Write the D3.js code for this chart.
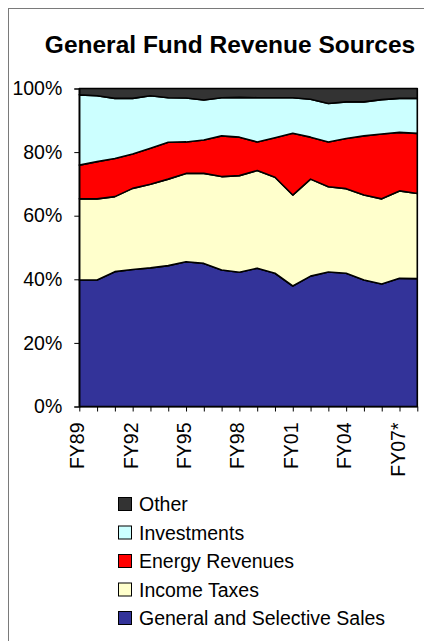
<!DOCTYPE html>
<html>
<head>
<meta charset="utf-8">
<script src="https://cdn.jsdelivr.net/npm/d3@7"></script>
<style>
  html, body { margin: 0; padding: 0; background: #fff; }
  svg { display: block; }
  text { font-family: "Liberation Sans", Arial, sans-serif; fill: #000; }
</style>
</head>
<body>
<svg id="chart" width="424" height="641"></svg>
<script>
const categories = ["FY89","FY90","FY91","FY92","FY93","FY94","FY95","FY96","FY97","FY98",
                    "FY99","FY00","FY01","FY02","FY03","FY04","FY05","FY06","FY07*","FY08*"];
const shownLabels = ["FY89","FY92","FY95","FY98","FY01","FY04","FY07*"];
const general     = [39.8, 39.8, 42.4, 43.1, 43.6, 44.3, 45.5, 45.0, 42.9, 42.2, 43.5, 41.9, 37.9, 41.0, 42.3, 41.9, 39.8, 38.5, 40.3, 40.2];
const income      = [25.5, 25.5, 23.6, 25.5, 26.3, 27.2, 27.8, 28.3, 29.4, 30.4, 30.7, 30.2, 28.6, 30.5, 26.8, 26.6, 26.7, 26.8, 27.5, 26.8];
const energy      = [10.6, 11.7, 12.0, 10.8, 11.3, 11.6, 9.9, 10.5, 12.8, 12.1, 9.0, 12.4, 19.4, 13.2, 14.1, 15.8, 18.6, 20.4, 18.4, 18.9];
const investments = [22.1, 20.7, 18.9, 17.5, 16.5, 14.0, 13.8, 12.6, 12.0, 12.5, 13.9, 12.6, 11.2, 11.9, 12.1, 11.5, 10.7, 10.8, 10.7, 11.0];
const other       = [2.0, 2.3, 3.1, 3.1, 2.3, 2.9, 3.0, 3.6, 2.9, 2.8, 2.9, 2.9, 2.9, 3.4, 4.7, 4.2, 4.2, 3.5, 3.1, 3.1];
const seriesNames = ["General and Selective Sales","Income Taxes","Energy Revenues","Investments","Other"];
const seriesColors = ["#333399","#FFFFCC","#FF0000","#CCFFFF","#333333"];
const yTicks = [0, 0.2, 0.4, 0.6, 0.8, 1.0];

const rows = categories.map((c, i) => ({
  cat: c,
  "General and Selective Sales": general[i],
  "Income Taxes": income[i],
  "Energy Revenues": energy[i],
  "Investments": investments[i],
  "Other": other[i]
}));

const svg = d3.select("#chart");

// outer frame
svg.append("rect").attr("x", 8.5).attr("y", 8.5).attr("width", 440).attr("height", 660)
  .attr("fill", "none").attr("stroke", "#7a7a7a").attr("stroke-width", 1);

// title
svg.append("text").attr("x", 230).attr("y", 52.5).attr("text-anchor", "middle")
  .style("font-size", "24.5px").style("font-weight", "bold")
  .text("General Fund Revenue Sources");

const x = d3.scalePoint().domain(categories).range([79.3, 417.3]);
const y = d3.scaleLinear().domain([0, 1]).range([406.5, 88.5]);

const stack = d3.stack().keys(seriesNames).offset(d3.stackOffsetExpand);
const layers = stack(rows);

const area = d3.area()
  .x(d => x(d.data.cat))
  .y0(d => y(d[0]))
  .y1(d => y(d[1]));

svg.append("g").selectAll("path").data(layers).join("path")
  .attr("d", area)
  .attr("fill", (d, i) => seriesColors[i])
  .attr("stroke", "#000")
  .attr("stroke-width", 1.6)
  .attr("stroke-linejoin", "round");

// y axis
const yAxis = svg.append("g").attr("transform", "translate(79.3,0)")
  .call(d3.axisLeft(y).tickValues(yTicks).tickFormat(d3.format(".0%")).tickSize(5).tickPadding(12));
yAxis.select(".domain").attr("stroke", "#000").attr("stroke-width", 1.2);
yAxis.selectAll(".tick line").attr("stroke", "#000");
yAxis.selectAll("text").style("font-size", "19.5px").style("font-family", "'Liberation Sans', Arial, sans-serif");

// x axis
const xAxis = svg.append("g").attr("transform", "translate(0,406.5)")
  .call(d3.axisBottom(x).tickSize(5).tickSizeOuter(0)
    .tickFormat(d => shownLabels.includes(d) ? d : ""));
xAxis.select(".domain").attr("stroke", "#000").attr("stroke-width", 1.2);
xAxis.selectAll(".tick line").attr("stroke", "#000");
xAxis.selectAll("text")
  .style("font-size", "19.5px").style("font-family", "'Liberation Sans', Arial, sans-serif")
  .attr("text-anchor", "end")
  .attr("dy", null).attr("y", null)
  .attr("dominant-baseline", "central")
  .attr("transform", "translate(-2.5,16) rotate(-90)");

// legend
const legendOrder = ["Other","Investments","Energy Revenues","Income Taxes","General and Selective Sales"];
const legend = svg.append("g");
legendOrder.forEach((name, i) => {
  const cy = 504 + i * 28.5;
  const idx = seriesNames.indexOf(name);
  legend.append("rect").attr("x", 118.5).attr("y", cy - 6.5).attr("width", 13).attr("height", 13)
    .attr("fill", seriesColors[idx]).attr("stroke", "#000").attr("stroke-width", 1);
  legend.append("text").attr("x", 139).attr("y", cy).attr("dominant-baseline", "central")
    .style("font-size", "19.5px").text(name);
});
</script>
</body>
</html>
